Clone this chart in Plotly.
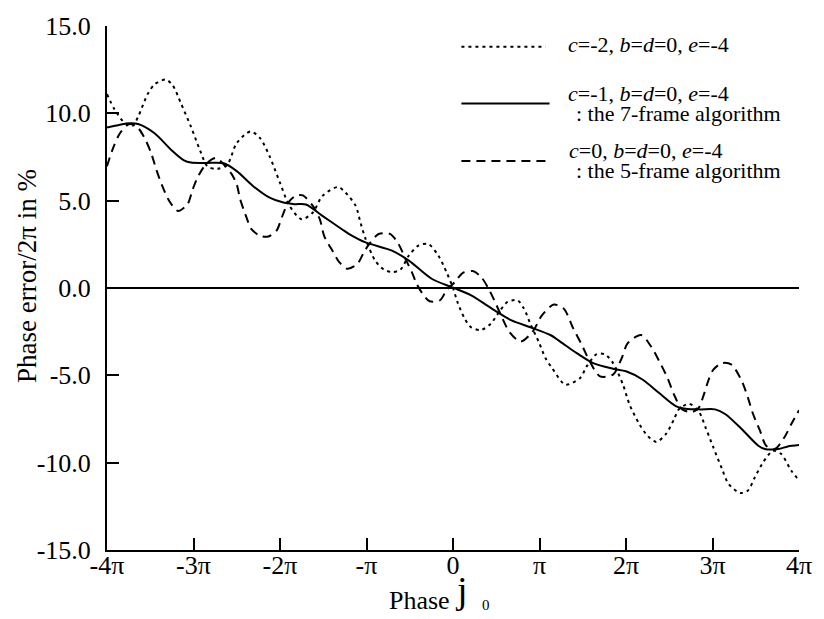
import plotly.graph_objects as go

# ---------------- data (x in units of pi, y = phase error / 2pi in %) ----------------
x_c2 = [-4.0, -3.91, -3.79, -3.70, -3.64, -3.53, -3.45, -3.32, -3.24, -3.145, -3.03, -2.92, -2.84,
        -2.73, -2.61, -2.50, -2.34, -2.23, -2.12, -2.00, -1.89, -1.75, -1.62, -1.51, -1.33, -1.24,
        -1.125, -1.07, -1.01, -0.90, -0.80, -0.705, -0.61, -0.51, -0.40, -0.285, -0.17, -0.075, 0.0,
        0.058, 0.134, 0.21, 0.325, 0.44, 0.535, 0.63, 0.745, 0.82, 0.90, 0.99, 1.07, 1.145, 1.30,
        1.47, 1.545, 1.66, 1.755, 1.85, 1.965, 2.04, 2.155, 2.25, 2.35, 2.46, 2.555, 2.61, 2.73,
        2.84, 2.92, 3.01, 3.11, 3.185, 3.32, 3.41, 3.49, 3.585, 3.70, 3.795, 3.91, 4.0]
y_c2 = [11.1, 10.2, 9.43, 9.3, 9.81, 11.1, 11.66, 11.93, 11.6, 10.57, 9.24, 7.82, 6.97,
        6.82, 7.06, 8.30, 8.96, 8.58, 7.54, 6.02, 4.70, 3.94, 4.32, 5.27, 5.78, 5.45,
        4.70, 3.75, 2.80, 1.57, 1.06, 0.91, 1.04, 1.86, 2.43, 2.52, 1.86, 0.91, 0.0,
        -0.89, -1.74, -2.25, -2.40, -2.03, -1.36, -0.80, -0.70, -1.18, -2.12, -3.07, -4.02, -4.58, -5.53,
        -5.15, -4.49, -3.79, -3.79, -4.30, -5.53, -6.66, -7.80, -8.47, -8.81, -8.37, -7.52, -6.95, -6.63,
        -7.05, -7.99, -9.13, -10.36, -11.21, -11.74, -11.59, -10.84, -9.98, -9.32, -9.51, -10.45, -11.02]

x_c1 = [-4.0, -3.85, -3.74, -3.64, -3.45, -3.26, -3.11, -3.03, -2.85, -2.65, -2.50, -2.31, -2.12,
        -1.96, -1.83, -1.70, -1.51, -1.28, -1.20, -1.01, -0.705, -0.51, -0.247, 0.0, 0.21, 0.477,
        0.67, 0.897, 1.126, 1.24, 1.43, 1.62, 1.85, 2.00, 2.19, 2.38, 2.575, 2.69, 2.86, 3.03,
        3.15, 3.34, 3.53, 3.605, 3.76, 3.87, 4.0]
y_c1 = [9.19, 9.35, 9.43, 9.39, 8.86, 7.92, 7.31, 7.18, 7.16, 7.14, 6.69, 5.83, 5.17,
        4.89, 4.80, 4.78, 4.13, 3.35, 3.09, 2.61, 2.14, 1.57, 0.53, 0.02, -0.42, -1.27,
        -1.84, -2.25, -2.69, -3.07, -3.73, -4.30, -4.62, -4.77, -5.24, -6.0, -6.76, -6.91, -6.95, -6.95,
        -7.23, -8.09, -9.03, -9.22, -9.22, -9.07, -8.99]

x_c0 = [-4.0, -3.93, -3.85, -3.74, -3.64, -3.565, -3.49, -3.43, -3.36, -3.28, -3.18, -3.07, -3.01,
        -2.955, -2.86, -2.745, -2.63, -2.555, -2.50, -2.46, -2.40, -2.33, -2.23, -2.135, -2.04, -1.98,
        -1.905, -1.81, -1.735, -1.62, -1.54, -1.49, -1.39, -1.315, -1.22, -1.105, -1.03, -0.955, -0.86,
        -0.725, -0.63, -0.55, -0.476, -0.42, -0.34, -0.27, -0.15, -0.075, 0.02, 0.115, 0.23, 0.325,
        0.40, 0.477, 0.554, 0.65, 0.78, 0.92, 1.03, 1.165, 1.28, 1.39, 1.49, 1.58, 1.70, 1.85, 1.95,
        2.02, 2.175, 2.29, 2.385, 2.48, 2.555, 2.65, 2.765, 2.84, 2.90, 2.956, 3.01, 3.11, 3.22, 3.34,
        3.41, 3.47, 3.55, 3.62, 3.72, 3.83, 3.91, 4.0]
y_c0 = [6.97, 8.01, 8.86, 9.39, 9.15, 8.58, 7.73, 6.78, 5.83, 4.98, 4.41, 4.79, 5.64,
        6.31, 7.06, 7.44, 6.97, 6.49, 5.93, 5.07, 4.22, 3.37, 2.99, 2.95, 3.28, 4.03,
        4.89, 5.30, 5.30, 4.70, 3.94, 2.99, 2.10, 1.48, 1.10, 1.38, 2.05, 2.61, 3.09,
        3.09, 2.52, 1.67, 0.91, 0.24, -0.41, -0.76, -0.70, -0.13, 0.34, 0.87, 0.97, 0.63,
        0.06, -0.70, -1.55, -2.50, -3.07, -2.50, -1.55, -0.95, -1.18, -2.31, -3.26, -4.20, -5.06, -4.96, -4.02,
        -3.16, -2.69, -3.35, -4.20, -5.15, -6.10, -6.95, -7.10, -6.86, -6.10, -5.24, -4.68, -4.30, -4.39, -5.34,
        -6.29, -7.23, -8.18, -9.03, -9.22, -8.56, -7.80, -7.0]

x_tickvals = [-4, -3, -2, -1, 0, 1, 2, 3, 4]
x_ticktext = ["-4π", "-3π", "-2π", "-π", "0", "π", "2π", "3π", "4π"]
y_tickvals = [-15, -10, -5, 0, 5, 10, 15]
y_ticktext = ["-15.0", "-10.0", "-5.0", "0.0", "5.0", "10.0", "15.0"]

legend_lines = [
    ["<i>c</i>=-2, <i>b</i>=<i>d</i>=0, <i>e</i>=-4"],
    ["<i>c</i>=-1, <i>b</i>=<i>d</i>=0, <i>e</i>=-4", ": the 7-frame algorithm"],
    ["<i>c</i>=0, <i>b</i>=<i>d</i>=0, <i>e</i>=-4", ": the 5-frame algorithm"],
]

# ---------------- layout geometry (pixels) ----------------
W, H = 824, 619
L, R, T, B = 107, 18, 22, 69
PW, PH = W - L - R, H - T - B


def px(xp):
    return (xp - L) / PW


def py(yp):
    return (H - B - yp) / PH


FONT = "Liberation Serif"
DOT = "3px,4px"
DASH = "9px,6px"

fig = go.Figure()
common = dict(mode="lines", line_shape="spline", showlegend=False, hoverinfo="skip")
fig.add_trace(go.Scatter(x=x_c2, y=y_c2, line=dict(color="black", width=2, dash=DOT, smoothing=0.8), **common))
fig.add_trace(go.Scatter(x=x_c0, y=y_c0, line=dict(color="black", width=2, dash=DASH, smoothing=0.8), **common))
fig.add_trace(go.Scatter(x=x_c1, y=y_c1, line=dict(color="black", width=2, smoothing=0.8), **common))

# legend samples + text
sample_y = [43, 100, 158]
sample_x = [(465, 550), (465, 554), (465, 550)]
sample_dash = [DOT, None, DASH]
text_y = [[41], [90, 110], [147, 168]]
text_x = [[572], [572, 580], [573, 580]]
shapes = []
annotations = []
for i in range(3):
    ln = dict(color="black", width=2)
    if sample_dash[i]:
        ln["dash"] = sample_dash[i]
    shapes.append(dict(type="line", xref="paper", yref="paper",
                       x0=px(sample_x[i][0]), x1=px(sample_x[i][1]),
                       y0=py(sample_y[i]), y1=py(sample_y[i]), line=ln))
    for j, t in enumerate(legend_lines[i]):
        annotations.append(dict(text=t, xref="paper", yref="paper",
                                x=px(text_x[i][j]), y=py(text_y[i][j]),
                                xanchor="left", yanchor="middle", showarrow=False,
                                borderpad=0,
                                font=dict(family=FONT, size=22, color="black")))

# axis titles
annotations.append(dict(text="Phase error/2π in %", xref="paper", yref="paper",
                        x=px(26), y=py(274), textangle=-90, showarrow=False,
                        xanchor="center", yanchor="middle",
                        font=dict(family=FONT, size=27, color="black")))
annotations.append(dict(text="Phase", xref="paper", yref="paper",
                        x=px(455), y=py(601), showarrow=False,
                        xanchor="right", yanchor="middle",
                        font=dict(family=FONT, size=26, color="black")))
annotations.append(dict(text="j", xref="paper", yref="paper",
                        x=px(465), y=py(590), showarrow=False,
                        xanchor="center", yanchor="middle",
                        font=dict(family=FONT, size=38, color="black")))
annotations.append(dict(text="0", xref="paper", yref="paper",
                        x=px(490), y=py(605), showarrow=False,
                        xanchor="center", yanchor="middle",
                        font=dict(family=FONT, size=15, color="black")))

fig.update_layout(
    width=W, height=H,
    margin=dict(l=L, r=R, t=T, b=B, pad=0),
    paper_bgcolor="white", plot_bgcolor="white",
    font=dict(family=FONT, color="black"),
    shapes=shapes, annotations=annotations,
)
fig.update_xaxes(range=[-4, 4], tickvals=x_tickvals, ticktext=x_ticktext,
                 ticks="inside", ticklen=12, tickwidth=2, tickcolor="black",
                 showline=True, linewidth=2, linecolor="black", showgrid=False,
                 zeroline=False, tickfont=dict(family=FONT, size=26, color="black"),
                 ticklabelstandoff=-9)
fig.update_yaxes(range=[-15, 15], tickvals=y_tickvals, ticktext=y_ticktext,
                 ticks="inside", ticklen=12, tickwidth=2, tickcolor="black",
                 showline=True, linewidth=2, linecolor="black", showgrid=False,
                 zeroline=True, zerolinewidth=2, zerolinecolor="black",
                 tickfont=dict(family=FONT, size=26, color="black"),
                 ticklabelstandoff=9)

fig.write_html("out.html")
